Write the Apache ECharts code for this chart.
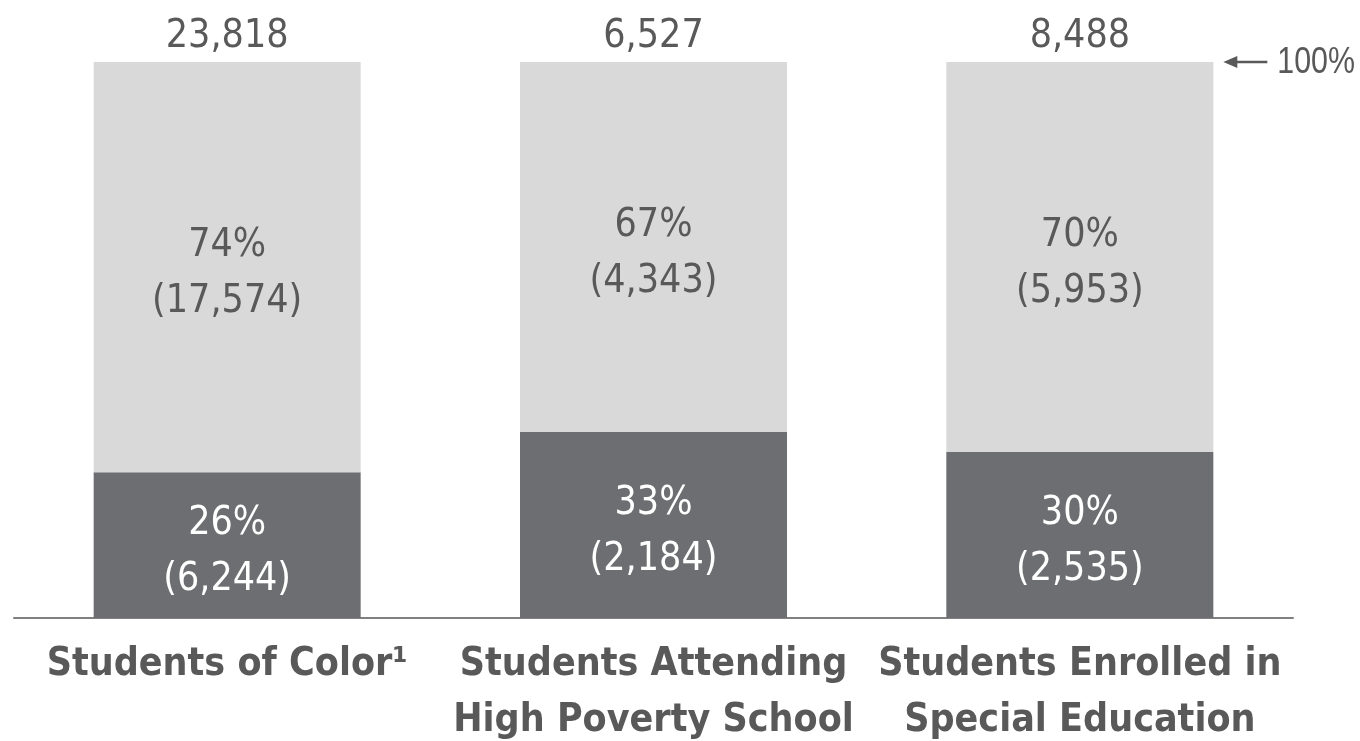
<!DOCTYPE html>
<html>
<head>
<meta charset="utf-8">
<script src="https://cdn.jsdelivr.net/npm/echarts@6/dist/echarts.min.js"></script>
<style>
  html, body { margin: 0; padding: 0; background: #ffffff; }
  #chart { width: 1360px; height: 741px; }
</style>
</head>
<body>
<div id="chart"></div>
<script>
// Student groups and counts
const categories = ['Students of Color\u00B9', 'Students Attending\nHigh Poverty School', 'Students Enrolled in\nSpecial Education'];
const lowerCounts = [6244, 2184, 2535];
const upperCounts = [17574, 4343, 5953];
const totals = [23818, 6527, 8488];
const topMarkLabel = '100%';

const pct = (v, i) => v / totals[i] * 100;
const lowerPct = lowerCounts.map(pct);
const upperPct = upperCounts.map(pct);
const fmt = n => n.toLocaleString('en-US');

const NUM_FONT = 'DejaVu Sans Condensed';
const TEXT_GRAY = '#595959';
const BAR_WIDTH = 267;

const chart = echarts.init(document.getElementById('chart'), null, { renderer: 'canvas' });

const segLabel = (counts, color) => ({
  show: true,
  position: 'inside',
  offset: [0, 7],
  color: color,
  fontFamily: NUM_FONT,
  fontSize: 39,
  lineHeight: 56,
  formatter: p => Math.round(p.value) + '%\n(' + fmt(counts[p.dataIndex]) + ')'
});

chart.setOption({
  animation: false,
  grid: { left: 14, right: 67, top: 62, bottom: 123, containLabel: false, outerBoundsMode: 'none' },
  xAxis: {
    type: 'category',
    data: categories,
    axisTick: { show: false },
    axisLine: { show: true, lineStyle: { color: '#808080', width: 2 } },
    axisLabel: {
      interval: 0,
      margin: 19,
      color: TEXT_GRAY,
      fontFamily: NUM_FONT,
      fontWeight: 'bold',
      fontSize: 39,
      lineHeight: 56,
      align: 'center'
    }
  },
  yAxis: { type: 'value', min: 0, max: 100, show: false },
  series: [
    {
      name: 'lower',
      type: 'bar',
      stack: 'all',
      barWidth: BAR_WIDTH,
      data: lowerPct,
      itemStyle: { color: '#6d6e71' },
      label: segLabel(lowerCounts, '#ffffff')
    },
    {
      name: 'upper',
      type: 'bar',
      stack: 'all',
      barWidth: BAR_WIDTH,
      data: upperPct,
      itemStyle: { color: '#d9d9d9' },
      label: segLabel(upperCounts, TEXT_GRAY)
    },
    {
      // zero-height cap on each stack carrying the group total
      name: 'total',
      type: 'bar',
      stack: 'all',
      barWidth: BAR_WIDTH,
      data: totals.map(() => 0),
      itemStyle: { color: TEXT_GRAY },
      label: {
        show: true,
        position: 'top',
        distance: 6,
        color: TEXT_GRAY,
        fontFamily: NUM_FONT,
        fontSize: 39,
        formatter: p => fmt(totals[p.dataIndex])
      }
    }
  ]
});

// Arrow and "100%" marker to the right of the last bar's top edge
const last = categories.length - 1;
const [cx, cy] = chart.convertToPixel({ seriesIndex: 0 }, [last, 100]);
const barRight = cx + BAR_WIDTH / 2;
chart.setOption({
  graphic: [
    {
      type: 'line',
      shape: { x1: barRight + 20, y1: cy, x2: barRight + 54, y2: cy },
      style: { stroke: TEXT_GRAY, lineWidth: 2.5 }
    },
    {
      type: 'polygon',
      shape: { points: [[barRight + 10, cy], [barRight + 24, cy - 6], [barRight + 24, cy + 6]] },
      style: { fill: TEXT_GRAY }
    },
    {
      type: 'text',
      x: barRight + 64,
      y: cy + 1,
      scaleX: 0.82,
      style: {
        text: topMarkLabel,
        fill: TEXT_GRAY,
        font: '37px "Liberation Sans"',
        verticalAlign: 'middle',
        align: 'left'
      }
    }
  ]
});
</script>
</body>
</html>
